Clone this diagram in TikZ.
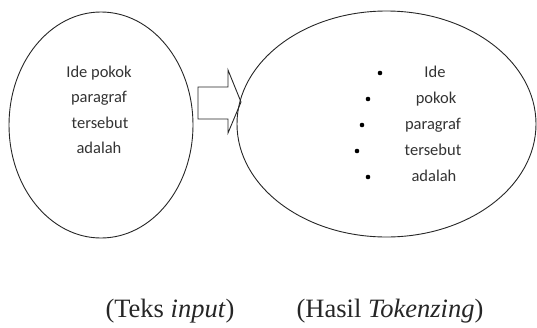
\documentclass[tikz,border=0pt]{standalone}
\usepackage{fontspec}
\setmainfont{Liberation Serif}
\newfontfamily\calib{Carlito}
\usetikzlibrary{shapes.geometric}
\begin{document}
\begin{tikzpicture}[x=1pt,y=-1pt,
  oval/.style={draw=black!85, line width=0.9pt, ellipse, inner sep=0pt},
  word/.style={anchor=base, inner sep=0pt, font=\calib\fontsize{16.5}{19}\selectfont, text=black!80},
  dot/.style={circle, fill=black, inner sep=0pt, minimum size=4.6pt},
  captext/.style={anchor=base, inner sep=0pt, font=\fontsize{26.5}{31}\selectfont, text=black!85},
  blockarrow/.style={draw=black!85, line width=0.9pt, line join=miter}]
\useasboundingbox (0,0) rectangle (537,327);
% ellipses
\node[oval, minimum width=184pt, minimum height=226pt] (src) at (101,125) {};
\node[oval, minimum width=299pt, minimum height=226pt] (res) at (386.5,124) {};
% left text
\node[word] (l1) at (99,77) {Ide pokok};
\node[word] (l2) at (99,102.5) {paragraf};
\node[word] (l3) at (100,128) {tersebut};
\node[word] (l4) at (99,153.5) {adalah};
% right tokens
\node[word] (r1) at (435,77) {Ide};
\node[word] (r2) at (436,103) {pokok};
\node[word] (r3) at (433,129) {paragraf};
\node[word] (r4) at (433,155) {tersebut};
\node[word] (r5) at (434,181) {adalah};
\node[dot] (b1) at (380,73) {};
\node[dot] (b2) at (368,99) {};
\node[dot] (b3) at (362,125) {};
\node[dot] (b4) at (357,151) {};
\node[dot] (b5) at (368,177) {};
% block arrow from src to res
\coordinate (a0) at (198,87);
\coordinate (tip) at (241,102);
\draw[blockarrow] (a0) -- (228,87) -- (228,70) -- (tip) -- (228,133) -- (228,119) -- (198,119) -- cycle;
% captions
\node[captext] (c1) at (170,317) {(Teks \textit{input})};
\node[captext] (c2) at (390,317) {(Hasil \textit{Tokenzing})};
\end{tikzpicture}
\end{document}
